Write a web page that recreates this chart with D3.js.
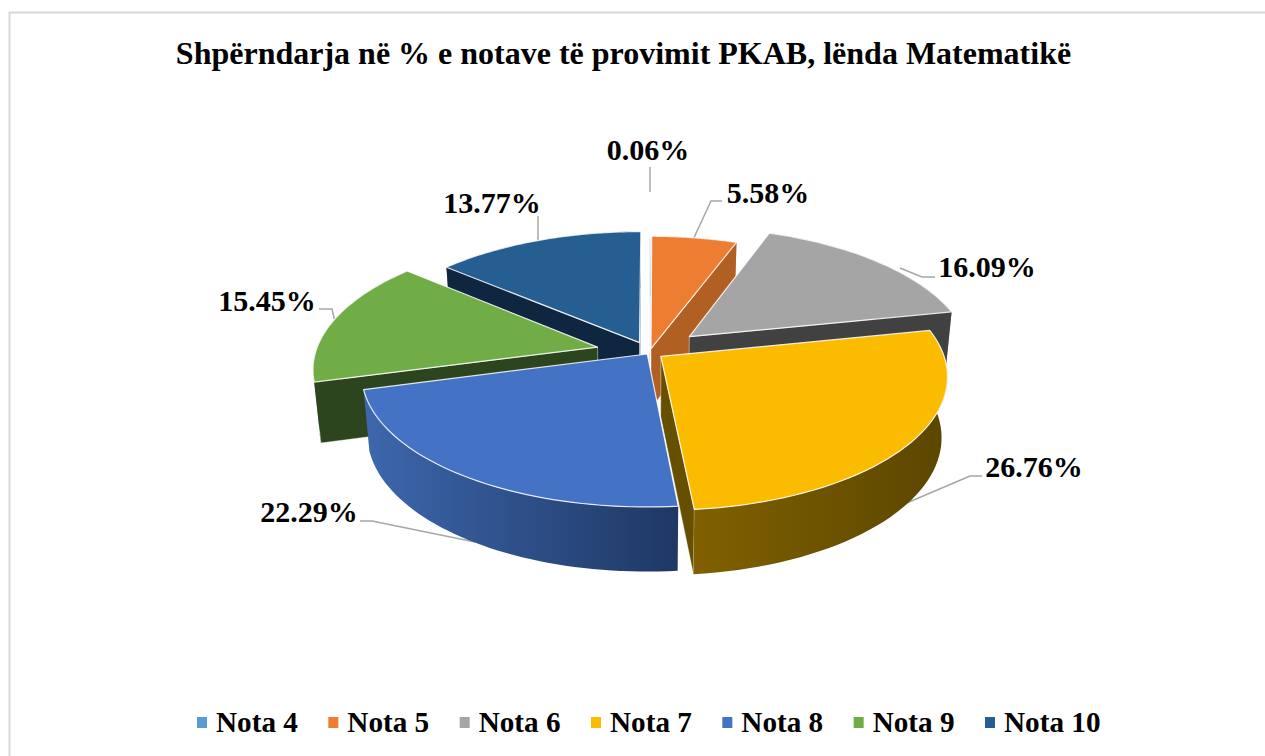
<!DOCTYPE html>
<html><head><meta charset="utf-8">
<script src="https://cdn.jsdelivr.net/npm/d3@7"></script>
<style>html,body{margin:0;padding:0;background:#fff;overflow:hidden}svg{display:block}text{font-family:"Liberation Serif",serif;font-weight:bold;fill:#000}</style>
</head><body><svg id="c" width="1265" height="756"></svg>
<script>
const categories=["Nota 4","Nota 5","Nota 6","Nota 7","Nota 8","Nota 9","Nota 10"];
const values=[0.06,5.58,16.09,26.76,22.29,15.45,13.77];
const labels=["0.06%","5.58%","16.09%","26.76%","22.29%","15.45%","13.77%"];
const explode=[0,0.03,0.19,0.05,0.014,0.19,0.085];
const titleText="Shpërndarja në % e notave të provimit PKAB, lënda Matematikë";
const topColors=["#5B9BD5","#ED7D31","#A5A5A5","#FBBC00","#4472C4","#70AD47","#255E91"];
const wallColors=["#2e5d86","#B25F24","#414141","#665000","#2F5597","#2D451E","#0F2640"];
const rimColors=[["#3a6ea0","#2e5d86"],["#B25F24","#B25F24"],["#414141","#414141"],["#806000","#5C4700"],["#3D66AC","#1F3864"],["#2D451E","#2D451E"],["#0F2640","#0F2640"]];
const paintOrder=[6,0,1,2,5,3,4];
// label layout: [anchor x, baseline y]; leaders are polylines ending on the slice
const labelPos=[[648,160],[768,203],[987,277],[1034,477],[309,522],[267,311],[492,213]];
const leaders=[[[650,167],[650,192]],[[692,242],[711,201],[722,201]],[[900,268],[922,277],[935,277]],[[895,508],[970,476],[982,476]],[[360,521],[372,521],[475,542]],[[319,309],[332,309],[336,326]],[[538,216],[538,244]]];

const cx=649.5,cy=352.5,R=282,T=130,k=0.147,wall=60,qx=0.98,qy=1.03;
const svg=d3.select("#c");
svg.append("rect").attr("x",9.5).attr("y",12.5).attr("width",1300).attr("height",800).attr("fill","#fff").attr("stroke","#D9D9D9").attr("stroke-width",2);
svg.append("text").attr("x",623.5).attr("y",64).attr("text-anchor","middle").attr("font-size",32).text(titleText);

const pie=d3.pie().sort(null).value(d=>d)(values);
const defs=svg.append("defs");
// world -> screen: X right, Y towards the viewer, unit = pie radius
function proj(X,Y){const s=1/(1-k*Y);return [cx+R*X*s,cy+T*Y*s];}
function bot(p){return [cx+(p[0]-cx)*qx,cy+(p[1]-cy)*qy+wall];}
const line=d3.line();
const N=48;
const slices=pie.map((a,i)=>{
  const mid=(a.startAngle+a.endAngle)/2,ex=explode[i]*Math.sin(mid),ey=-explode[i]*Math.cos(mid);
  const angs=d3.range(N+1).map(j=>a.startAngle+(a.endAngle-a.startAngle)*j/N);
  const arc=angs.map(t=>proj(ex+Math.sin(t),ey-Math.cos(t)));
  return {i,apex:proj(ex,ey),arc};
});
leaders.forEach(l=>svg.append("path").attr("d",line(l)).attr("fill","none").attr("stroke","#A6A6A6").attr("stroke-width",1.5));
paintOrder.forEach(i=>{
  const s=slices[i],g=svg.append("g");
  const ab=bot(s.apex),arcB=s.arc.map(bot),first=s.arc[0],last=s.arc[N];
  const xs=arcB.map(p=>p[0]);
  const id="rim"+i;
  const lg=defs.append("linearGradient").attr("id",id).attr("gradientUnits","userSpaceOnUse").attr("x1",d3.min(xs)).attr("x2",d3.max(xs)).attr("y1",0).attr("y2",0);
  lg.append("stop").attr("offset",0).attr("stop-color",rimColors[i][0]);
  lg.append("stop").attr("offset",1).attr("stop-color",rimColors[i][1]);
  const edge="rgba(255,255,255,0.55)";
  // only the radial wall that faces the camera is drawn
  const startQ=[s.apex,first,bot(first),ab],endQ=[s.apex,last,bot(last),ab];
  if(d3.polygonArea(startQ)>0) g.append("path").attr("d",line(startQ)+"Z").attr("fill",wallColors[i]).attr("stroke",edge).attr("stroke-width",0.8);
  if(d3.polygonArea(endQ)<0) g.append("path").attr("d",line(endQ)+"Z").attr("fill",wallColors[i]).attr("stroke",edge).attr("stroke-width",0.8);
  g.append("path").attr("d",line(s.arc.concat(arcB.slice().reverse()))+"Z").attr("fill",`url(#${id})`);
  g.append("path").attr("d",line([s.apex].concat(s.arc))+"Z").attr("fill",topColors[i]).attr("stroke","rgba(255,255,255,0.85)").attr("stroke-width",1.2).attr("stroke-linejoin","round");
});
labels.forEach((t,i)=>svg.append("text").attr("x",labelPos[i][0]).attr("y",labelPos[i][1]).attr("text-anchor","middle").attr("font-size",30).text(t));
const lx=d3.scaleLinear().domain([0,6]).range([197,985]);
categories.forEach((c,i)=>{
  svg.append("rect").attr("x",lx(i)).attr("y",717).attr("width",10).attr("height",11).attr("fill",topColors[i]);
  svg.append("text").attr("x",lx(i)+19).attr("y",732).attr("font-size",29.2).text(c);
});
</script></body></html>
